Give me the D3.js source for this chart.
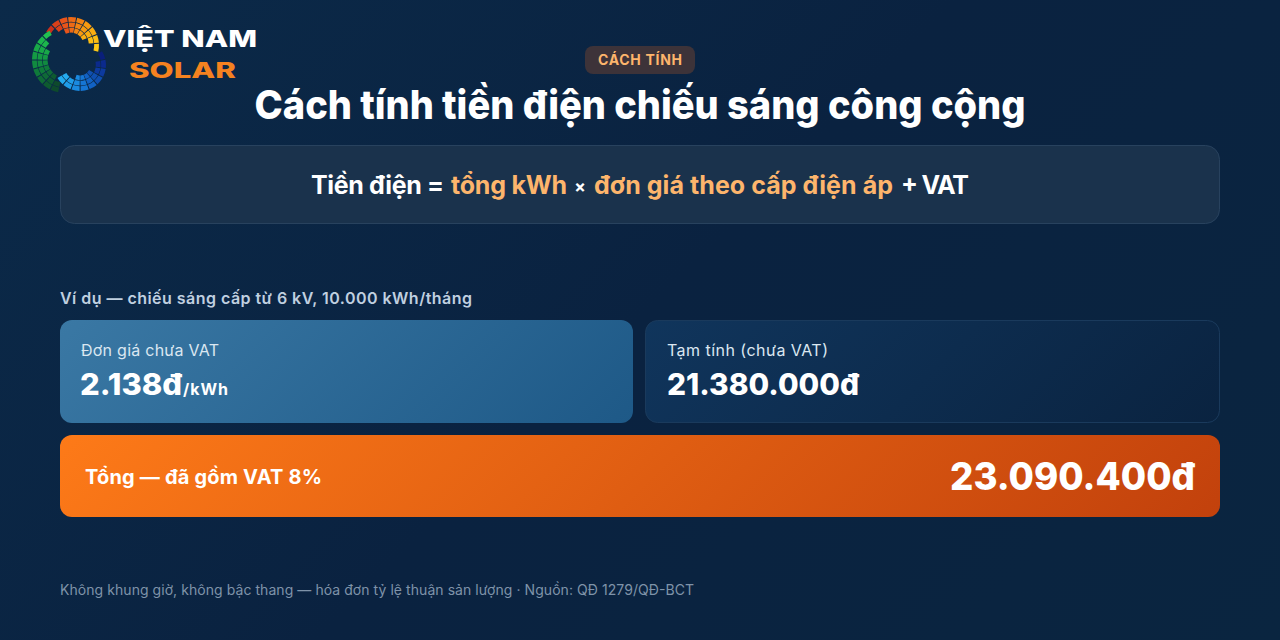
<!DOCTYPE html>
<html>
<head>
<meta charset="utf-8">
<script src="https://cdnjs.cloudflare.com/ajax/libs/d3/7.8.5/d3.min.js"></script>
<style>
html, body { margin: 0; padding: 0; background: #0a2540; overflow: hidden; }
svg { display: block; font-family: Inter, "Noto Sans", sans-serif; }
</style>
</head>
<body>
<div id="chart"></div>
<script>
const tagLabel = 'CÁCH TÍNH';
const titleText = 'Cách tính tiền điện chiếu sáng công cộng';
const formulaParts = ['Tiền điện =', 'tổng kWh', '×', 'đơn giá theo cấp điện áp', '+ VAT'];
const exampleText = 'Ví dụ — chiếu sáng cấp từ 6 kV, 10.000 kWh/tháng';
const cardLabels = ['Đơn giá chưa VAT', 'Tạm tính (chưa VAT)'];
const cardValues = ['2.138đ', '21.380.000đ'];
const unitText = '/kWh';
const totalLabel = 'Tổng — đã gồm VAT 8%';
const totalValue = '23.090.400đ';
const footText = 'Không khung giờ, không bậc thang — hóa đơn tỷ lệ thuận sản lượng · Nguồn: QĐ 1279/QĐ-BCT';

// logo cells: rows per column follow the band, which tapers towards its tips
const orangeRows = [1, 2, 3, 3, 3, 3, 3, 2, 1];
const orangeColors = ['#c9301c', '#d9401a', '#e8541a', '#ee6a16', '#f28312', '#f79a10', '#f9ad10', '#fbbd12', '#fcc816'];
const blueRows = [1, 2, 2, 3, 3, 3, 3, 2, 2];
const blueColors = ['#0a1f7a', '#0b2a8c', '#0d3a9e', '#0f4fb0', '#1262c4', '#1676d4', '#1a8ae0', '#1f9ce8', '#24aaee'];
const greenRows = [2, 3, 3, 3, 3, 3, 3, 2, 1];
const greenColors = ['#0e4a2c', '#0e5a30', '#0f6a36', '#0f7a3a', '#118a40', '#149a44', '#18a848', '#1cb64c', '#22c050'];

const logoArcs = [
    { cx: 71, cy: 45, r: 28, from: -62, to: 104, rows: orangeRows, colors: orangeColors },
    { cx: 80, cy: 65, r: 26, from: 58, to: 240, rows: blueRows, colors: blueColors },
    { cx: 65, cy: 60, r: 33, from: 192, to: 332, rows: greenRows, colors: greenColors }
];

const width = 1280;
const height = 640;

const svg = d3.select('#chart').append('svg')
    .attr('width', width)
    .attr('height', height);

const defs = svg.append('defs');

// same geometry as a css 135deg gradient on the box
function diagGradient(id, stops, x, y, w, h) {
    const half = (w + h) / 4;
    const cx = x + w / 2;
    const cy = y + h / 2;
    const g = defs.append('linearGradient').attr('id', id)
        .attr('gradientUnits', 'userSpaceOnUse')
        .attr('x1', cx - half).attr('y1', cy - half)
        .attr('x2', cx + half).attr('y2', cy + half);
    stops.forEach((c, i) => {
        g.append('stop').attr('offset', i / (stops.length - 1)).attr('stop-color', c);
    });
}

diagGradient('bg', ['#0b2a49', '#0a2240', '#0a2540'], 0, 0, width, height);
diagGradient('card1', ['#3a78a4', '#1e5987'], 60, 320, 573, 103);
diagGradient('card2', ['#10355c', '#0a2340'], 645, 320, 575, 103);
diagGradient('total', ['#fd7a18', '#c2410c'], 60, 435, 1160, 82);

svg.append('rect').attr('width', width).attr('height', height).attr('fill', 'url(#bg)');

function box(x, y, w, h, r, fill, stroke) {
    svg.append('rect')
        .attr('x', x).attr('y', y).attr('width', w).attr('height', h).attr('rx', r)
        .attr('fill', fill)
        .attr('stroke', stroke || 'none');
}

function label(x, y, txt, size, weight, fill, anchor, fitWidth, adjust) {
    const t = svg.append('text')
        .attr('x', x).attr('y', y)
        .attr('font-size', size).attr('font-weight', weight)
        .attr('fill', fill)
        .attr('text-anchor', anchor || 'start')
        .text(txt);
    if (fitWidth) t.attr('textLength', fitWidth).attr('lengthAdjust', adjust || 'spacing');
    return t;
}

// logo
const arcGen = d3.arc();
logoArcs.forEach(a => {
    const g = svg.append('g').attr('transform', `translate(${a.cx},${a.cy})`);
    const angle = d3.scaleBand()
        .domain(d3.range(a.colors.length))
        .range([a.from, a.to])
        .paddingInner(0.12);
    a.colors.forEach((c, i) => {
        d3.range(a.rows[i]).forEach(r => {
            g.append('path')
                .attr('fill', c)
                .attr('d', arcGen({
                    innerRadius: a.r - (r + 1) * 5.4 + 0.6,
                    outerRadius: a.r - r * 5.4,
                    startAngle: angle(i) * Math.PI / 180,
                    endAngle: (angle(i) + angle.bandwidth()) * Math.PI / 180
                }));
        });
    });
});
label(103, 47, 'VIỆT NAM', 23, 800, '#ffffff', 'start', 154, 'spacingAndGlyphs');
label(129, 78, 'SOLAR', 21, 800, '#f58220', 'start', 107, 'spacingAndGlyphs');

// tag and title
box(585, 46, 110, 28, 8, '#3d3339');
label(640, 65, tagLabel, 14, 700, '#fdb56c', 'middle', 84);
label(640, 119, titleText, 40, 800, '#ffffff', 'middle', 771, 'spacingAndGlyphs');

// formula box
box(60.5, 145.5, 1159, 78, 14, '#1a324c', '#28425e');
label(311, 194, formulaParts[0], 25, 700, '#ffffff', 'start', 133);
label(451, 194, formulaParts[1], 25, 700, '#fdb56c', 'start', 116);
label(580, 193, formulaParts[2], 17, 700, '#ffffff', 'middle');
label(594, 194, formulaParts[3], 25, 700, '#fdb56c', 'start', 299);
label(901, 194, formulaParts[4], 25, 700, '#ffffff', 'start', 68);

// example
label(60, 304, exampleText, 16, 600, '#c0d0e0', 'start', 412);

// cards
box(60, 320, 573, 103, 12, 'url(#card1)');
box(645.5, 320.5, 574, 102, 12, 'url(#card2)', '#1a3a5c');
label(81, 356, cardLabels[0], 16, 400, '#dbe7f1', 'start', 138);
label(667, 356, cardLabels[1], 16, 400, '#dbe7f1', 'start', 161);
label(80, 395, cardValues[0], 30, 800, '#ffffff', 'start', 102, 'spacingAndGlyphs');
label(183, 395, unitText, 16, 700, '#ffffff', 'start', 45);
label(667, 395, cardValues[1], 30, 800, '#ffffff', 'start', 192, 'spacingAndGlyphs');

// total bar
box(60, 435, 1160, 82, 12, 'url(#total)');
label(85, 484, totalLabel, 20, 700, '#ffffff', 'start', 237);
label(1195, 490, totalValue, 38, 800, '#ffffff', 'end', 245, 'spacingAndGlyphs');

label(60, 595, footText, 14, 400, '#7f93a9', 'start', 634);
</script>
</body>
</html>
